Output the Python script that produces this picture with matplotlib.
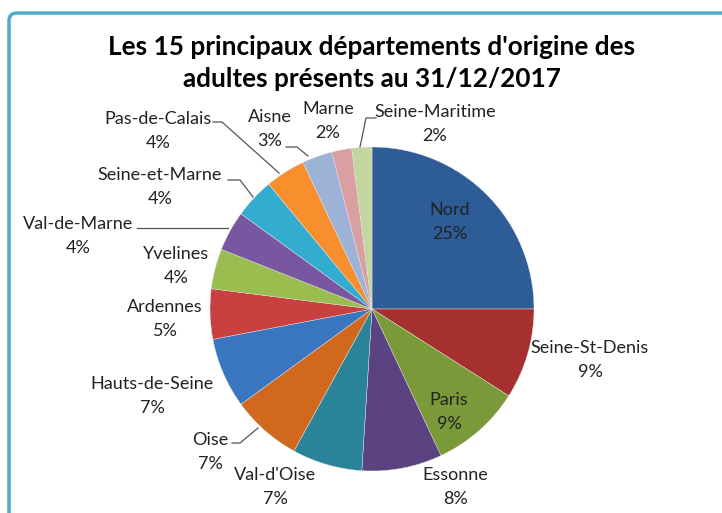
import matplotlib.pyplot as plt
from matplotlib.patches import FancyBboxPatch

departements = ["Nord", "Seine-St-Denis", "Paris", "Essonne", "Val-d'Oise", "Oise",
                "Hauts-de-Seine", "Ardennes", "Yvelines", "Val-de-Marne",
                "Seine-et-Marne", "Pas-de-Calais", "Aisne", "Marne", "Seine-Maritime"]
parts = [25, 9, 9, 8, 7, 7, 7, 5, 4, 4, 4, 4, 3, 2, 2]
colors = ["#2E5C96", "#A5302D", "#7A9A3A", "#5B4280", "#2A8499", "#D0691E",
          "#3A75C0", "#C94040", "#99BD4E", "#7856A0", "#33ADCF", "#F98E2C",
          "#9DB2D7", "#D8A0A0", "#C3D69F"]

# label centres in pixels (x, y from top), leader lines where Excel drew one
label_pos = {
    "Nord": (450, 222), "Seine-St-Denis": (590, 360), "Paris": (449, 412),
    "Essonne": (455, 487), "Val-d'Oise": (275, 487), "Oise": (210, 452),
    "Hauts-de-Seine": (152, 396), "Ardennes": (165, 319), "Yvelines": (176, 266),
    "Val-de-Marne": (78, 236), "Seine-et-Marne": (160, 187), "Pas-de-Calais": (158, 131),
    "Aisne": (270, 129), "Marne": (328, 121), "Seine-Maritime": (435, 124),
}
leaders = {
    "Oise": [(232, 443), (240, 443), (258, 428)],
    "Val-de-Marne": [(137, 228), (228, 228)],
    "Seine-et-Marne": [(228, 180), (240, 180), (253, 197)],
    "Pas-de-Calais": [(213, 122), (222, 122), (279, 173)],
    "Aisne": [(286, 147), (297, 147), (308, 156)],
    "Seine-Maritime": [(376, 118), (366, 118), (360, 147)],
}

W, H = 722, 513
plt.rcParams['font.family'] = ['Lato', 'DejaVu Sans']
fig = plt.figure(figsize=(W / 100, H / 100), dpi=100)
ax = fig.add_axes([0, 0, 1, 1])

# frame of the chart area
frame = FancyBboxPatch((9, -40), 780, H - 13 + 40, boxstyle="round,pad=0,rounding_size=8",
                       facecolor='white', edgecolor='#4BACC6', linewidth=2.5)
ax.add_patch(frame)

ax.pie(parts, colors=colors, startangle=90, counterclock=False,
       center=(372, H - 309), radius=162, frame=True,
       wedgeprops=dict(linewidth=0.3, edgecolor='#e6e6e6'))
ax.set_xlim(0, W)
ax.set_ylim(0, H)
ax.set_aspect('equal')
ax.axis('off')

ax.text(372, H - 63, "Les 15 principaux départements d'origine des\nadultes présents au 31/12/2017",
        ha='center', va='center', fontsize=18.8, fontweight='bold', linespacing=1.4)

for name, p in zip(departements, parts):
    x, y = label_pos[name]
    ax.text(x, H - y, f"{name}\n{p}%", ha='center', va='center', fontsize=13,
            color='#222222', linespacing=1.55)
    if name in leaders:
        xs = [pt[0] for pt in leaders[name]]
        ys = [H - pt[1] for pt in leaders[name]]
        ax.plot(xs, ys, color='#555555', linewidth=0.9)

fig.savefig("out.png", dpi=100)
